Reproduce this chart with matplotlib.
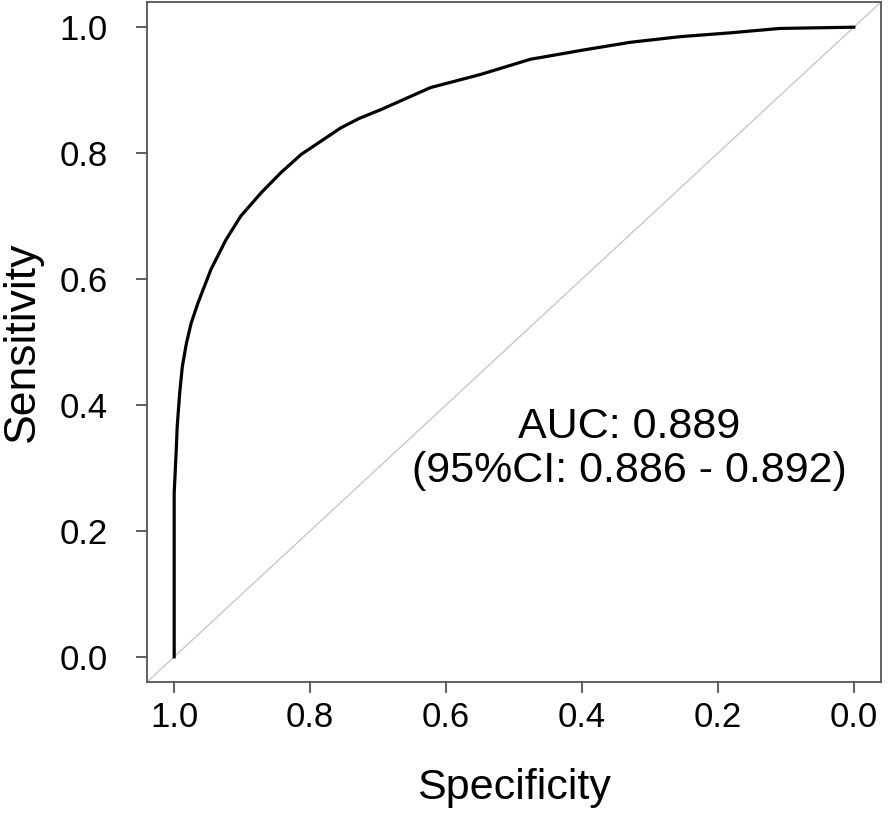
import matplotlib.pyplot as plt

plt.rcParams['font.family'] = ['Liberation Sans', 'DejaVu Sans']

# ROC curve points (specificity, sensitivity)
specificity = [1.000, 1.000, 0.997, 0.9956, 0.992, 0.988, 0.982, 0.975, 0.965,
               0.946, 0.924, 0.902, 0.872, 0.843, 0.813, 0.784, 0.755, 0.728,
               0.696, 0.623, 0.549, 0.476, 0.402, 0.329, 0.255, 0.182, 0.109,
               0.000]
sensitivity = [0.000, 0.260, 0.328, 0.365, 0.418, 0.461, 0.498, 0.530, 0.562,
               0.615, 0.662, 0.700, 0.737, 0.769, 0.798, 0.819, 0.840, 0.855,
               0.869, 0.904, 0.925, 0.949, 0.963, 0.976, 0.985, 0.991, 0.998,
               1.000]
ticks = [0.0, 0.2, 0.4, 0.6, 0.8, 1.0]
tick_labels = ['0.0', '0.2', '0.4', '0.6', '0.8', '1.0']
auc_text = 'AUC: 0.889\n(95%CI: 0.886 - 0.892)'

fig = plt.figure(figsize=(8.94, 8.13), dpi=100)
ax = fig.add_axes([147 / 894, 1 - 682 / 813, 734 / 894, 680 / 813])

ax.set_xlim(1.04, -0.04)
ax.set_ylim(-0.04, 1.04)

# chance diagonal
ax.plot([1.04, -0.04], [-0.04, 1.04], color='#c8c8c8', lw=1.0, zorder=1)
ax.plot(specificity, sensitivity, color='black', lw=2.3, zorder=2,
        solid_joinstyle='round')

ax.text(0.33, 0.33, auc_text, ha='center', va='center', fontsize=31,
        linespacing=1.12)

ax.set_xticks(ticks)
ax.set_xticklabels(tick_labels)
ax.set_yticks(ticks)
ax.set_yticklabels(tick_labels)
ax.tick_params(axis='both', length=8, width=1.2, color='#444444',
               labelsize=25)
ax.tick_params(axis='x', pad=6)
ax.tick_params(axis='y', pad=20)
for s in ax.spines.values():
    s.set_color('#555555')
    s.set_linewidth(1.3)

ax.set_xlabel('Specificity', fontsize=31, labelpad=24)
ax.set_ylabel('Sensitivity', fontsize=32, labelpad=12)

fig.savefig('out.png', dpi=100)
